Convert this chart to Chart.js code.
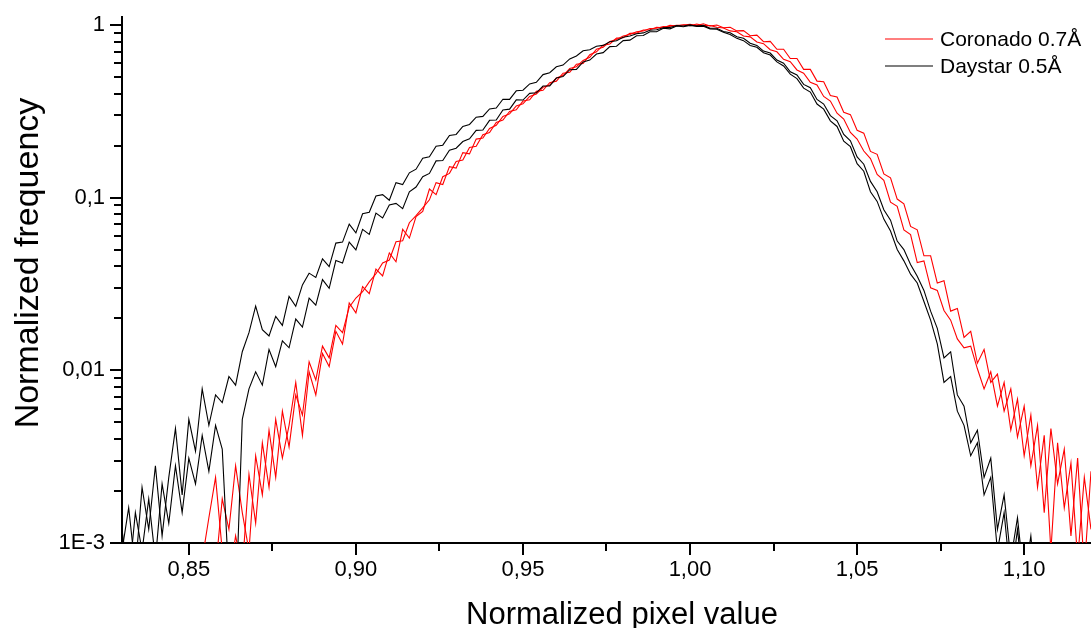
<!DOCTYPE html>
<html><head><meta charset="utf-8">
<script src="https://cdn.jsdelivr.net/npm/chart.js@4.4.1/dist/chart.umd.min.js"></script>
<style>html,body{margin:0;padding:0;background:#fff;}canvas{display:block;}</style>
</head><body>
<canvas id="c" width="1091" height="628"></canvas>
<script>
// Histogram bin centres (normalized pixel value)
const binCenters = [
 0.830,0.832,0.834,0.836,0.838,0.840,0.842,0.844,0.846,0.848,
 0.850,0.852,0.854,0.856,0.858,0.860,0.862,0.864,0.866,0.868,
 0.870,0.872,0.874,0.876,0.878,0.880,0.882,0.884,0.886,0.888,
 0.890,0.892,0.894,0.896,0.898,0.900,0.902,0.904,0.906,0.908,
 0.910,0.912,0.914,0.916,0.918,0.920,0.922,0.924,0.926,0.928,
 0.930,0.932,0.934,0.936,0.938,0.940,0.942,0.944,0.946,0.948,
 0.950,0.952,0.954,0.956,0.958,0.960,0.962,0.964,0.966,0.968,
 0.970,0.972,0.974,0.976,0.978,0.980,0.982,0.984,0.986,0.988,
 0.990,0.992,0.994,0.996,0.998,1.000,1.002,1.004,1.006,1.008,
 1.010,1.012,1.014,1.016,1.018,1.020,1.022,1.024,1.026,1.028,
 1.030,1.032,1.034,1.036,1.038,1.040,1.042,1.044,1.046,1.048,
 1.050,1.052,1.054,1.056,1.058,1.060,1.062,1.064,1.066,1.068,
 1.070,1.072,1.074,1.076,1.078,1.080,1.082,1.084,1.086,1.088,
 1.090,1.092,1.094,1.096,1.098,1.100,1.102,1.104,1.106,1.108,
 1.110,1.112,1.114,1.116,1.118,1.120
];
// Coronado 0.7Å, first curve
const coronadoA = [
 null,null,null,null,null,null,null,null,null,null,
 null,null,0.0008,0.0014,0.0024,0.0009,0.0006,0.0011,0.0007,0.0025,
 0.0013,0.0038,0.0021,0.0052,0.0031,0.0048,0.0085,0.0042,0.0098,0.0072,
 0.0125,0.0105,0.0168,0.0142,0.0245,0.0215,0.0305,0.0278,0.0385,0.0352,
 0.0478,0.0425,0.0655,0.0582,0.0775,0.0832,0.112,0.104,0.132,0.138,
 0.162,0.165,0.195,0.198,0.231,0.238,0.272,0.281,0.315,0.322,
 0.362,0.368,0.412,0.418,0.462,0.472,0.525,0.532,0.592,0.598,
 0.672,0.698,0.762,0.775,0.838,0.842,0.892,0.895,0.934,0.936,
 0.968,0.962,0.992,0.985,1.0,0.988,1.01,0.99,0.992,0.968,
 0.958,0.922,0.912,0.862,0.852,0.795,0.778,0.718,0.698,0.632,
 0.612,0.548,0.525,0.465,0.448,0.385,0.362,0.308,0.285,0.238,
 0.218,0.186,0.168,0.136,0.126,0.094,0.089,0.065,0.061,0.042,
 0.043,0.030,0.029,0.0222,0.0195,0.0152,0.0135,0.0138,0.0102,0.0078,
 0.0098,0.0062,0.0085,0.0045,0.0068,0.0032,0.0055,0.0021,0.0042,0.0009,
 0.0038,0.0016,0.0029,0.0008,0.0024,0.0012
];
// Coronado 0.7Å, second curve
const coronadoB = [
 null,null,null,null,null,null,null,null,null,null,
 null,null,null,null,0.0007,0.0018,0.0012,0.0028,0.0015,0.0009,
 0.0032,0.0019,0.0045,0.0024,0.0058,0.0036,0.0072,0.0055,0.0112,0.0088,
 0.0138,0.0118,0.0182,0.0165,0.0232,0.0262,0.0285,0.0325,0.0362,0.0418,
 0.0435,0.0555,0.0562,0.0715,0.0785,0.0872,0.097,0.122,0.119,0.151,
 0.148,0.182,0.179,0.218,0.221,0.251,0.262,0.295,0.305,0.339,
 0.349,0.385,0.398,0.435,0.448,0.492,0.508,0.558,0.572,0.622,
 0.648,0.722,0.742,0.802,0.822,0.862,0.878,0.912,0.922,0.952,
 0.955,0.978,0.982,0.995,0.998,1.008,0.99,1.015,0.985,0.998,
 0.962,0.968,0.922,0.925,0.865,0.872,0.798,0.802,0.722,0.722,
 0.638,0.638,0.552,0.552,0.472,0.468,0.39,0.382,0.312,0.302,
 0.245,0.236,0.185,0.178,0.137,0.13,0.098,0.092,0.068,0.065,
 0.046,0.046,0.032,0.033,0.022,0.0228,0.0155,0.0168,0.011,0.0132,
 0.0085,0.0095,0.0058,0.0078,0.0041,0.0062,0.0028,0.0048,0.0015,0.0046,
 0.0022,0.0035,0.0011,0.0031,0.0007,0.0026
];
// Daystar 0.5Å, first curve
const daystarA = [
 0.0009,0.0016,0.0007,0.0021,0.0012,0.0028,0.0011,0.0024,0.0046,0.0019,
 0.0052,0.0034,0.0078,0.0048,0.0072,0.0065,0.0092,0.0082,0.0128,0.0165,
 0.0235,0.0172,0.0158,0.0205,0.0182,0.0268,0.0235,0.0312,0.0365,0.0345,
 0.0442,0.0398,0.0545,0.0552,0.0702,0.0625,0.0805,0.0822,0.102,0.104,
 0.0965,0.122,0.119,0.139,0.146,0.169,0.172,0.198,0.201,0.229,
 0.232,0.258,0.265,0.292,0.295,0.326,0.33,0.371,0.37,0.415,
 0.418,0.455,0.465,0.515,0.528,0.572,0.585,0.635,0.66,0.708,
 0.718,0.752,0.76,0.798,0.808,0.848,0.862,0.888,0.898,0.93,
 0.936,0.962,0.966,0.99,0.985,1.0,0.98,0.982,0.948,0.942,
 0.905,0.88,0.835,0.81,0.76,0.742,0.69,0.668,0.61,0.578,
 0.518,0.488,0.43,0.408,0.348,0.325,0.278,0.258,0.212,0.197,
 0.157,0.142,0.108,0.095,0.075,0.064,0.05,0.043,0.036,0.032,
 0.025,0.0195,0.0142,0.0085,0.0092,0.0058,0.0048,0.0032,0.0038,0.0019,
 0.0024,0.0009,0.0015,0.0006,0.0012,0.0005,null,null,null,null,
 null,null,null,null,null,null
];
// Daystar 0.5Å, second curve
const daystarB = [
 0.0012,0.0006,0.0015,0.0009,0.0018,0.0008,0.0022,0.0013,0.0028,0.0015,
 0.0031,0.0022,0.0042,0.0026,0.0048,0.0035,0.0006,0.0004,0.0052,0.0078,
 0.0098,0.0082,0.0132,0.0105,0.0148,0.0135,0.0198,0.0178,0.0262,0.0238,
 0.0335,0.0298,0.0432,0.0418,0.0552,0.0498,0.0655,0.0612,0.0812,0.0762,
 0.0905,0.0925,0.0862,0.108,0.115,0.132,0.138,0.163,0.164,0.188,
 0.193,0.211,0.219,0.245,0.246,0.28,0.281,0.321,0.325,0.368,
 0.367,0.401,0.404,0.442,0.443,0.492,0.502,0.55,0.552,0.61,
 0.625,0.678,0.69,0.748,0.752,0.81,0.815,0.865,0.868,0.912,
 0.912,0.955,0.948,0.985,0.975,0.99,0.985,0.992,0.955,0.955,
 0.915,0.9,0.852,0.836,0.782,0.76,0.705,0.686,0.625,0.6,
 0.535,0.512,0.452,0.432,0.37,0.348,0.298,0.278,0.232,0.213,
 0.172,0.156,0.124,0.108,0.085,0.074,0.056,0.05,0.041,0.035,
 0.029,0.022,0.0175,0.0118,0.0128,0.0072,0.0062,0.0038,0.0045,0.0024,
 0.0031,0.0012,0.0019,0.0008,0.0014,0.0006,0.0011,0.0004,null,null,
 null,null,null,null,null,null
];
const seriesNames = ['Coronado 0.7Å', 'Daystar 0.5Å'];
const seriesColors = ['#ff0000', '#000000'];
const xTickValues = [0.85, 0.90, 0.95, 1.00, 1.05, 1.10];
const xTickLabels = ['0,85', '0,90', '0,95', '1,00', '1,05', '1,10'];
const xMinorTicks = [0.875, 0.925, 0.975, 1.025, 1.075];
const yTickValues = [0.001, 0.01, 0.1, 1];
const yTickLabels = ['1E-3', '0,01', '0,1', '1'];
const yMinorTicks = [0.002,0.003,0.004,0.005,0.006,0.007,0.008,0.009,
                     0.02,0.03,0.04,0.05,0.06,0.07,0.08,0.09,
                     0.2,0.3,0.4,0.5,0.6,0.7,0.8,0.9];
const xTitle = 'Normalized pixel value';
const yTitle = 'Normalized frequency';

const FONT = "'Liberation Sans', Arial, Helvetica, sans-serif";
const toPts = arr => binCenters.map((x, i) => ({x: x, y: arr[i]}));

const extras = {
  id: 'extras',
  afterDraw(chart) {
    const ctx = chart.ctx, a = chart.chartArea;
    const xs = chart.scales.x, ys = chart.scales.y;
    ctx.save();
    ctx.strokeStyle = '#000';
    ctx.lineWidth = 2;
    ctx.beginPath();
    yTickValues.forEach(v => {
      const p = Math.round(ys.getPixelForValue(v));
      ctx.moveTo(a.left - 12, p); ctx.lineTo(a.left, p);
    });
    yMinorTicks.forEach(v => {
      const p = Math.round(ys.getPixelForValue(v));
      ctx.moveTo(a.left - 8, p); ctx.lineTo(a.left, p);
    });
    xTickValues.forEach(v => {
      const p = Math.round(xs.getPixelForValue(v));
      ctx.moveTo(p, a.bottom); ctx.lineTo(p, a.bottom + 12);
    });
    xMinorTicks.forEach(v => {
      const p = Math.round(xs.getPixelForValue(v));
      ctx.moveTo(p, a.bottom); ctx.lineTo(p, a.bottom + 8);
    });
    ctx.stroke();
    // axis titles
    ctx.fillStyle = '#000';
    ctx.font = '31px ' + FONT;
    ctx.textAlign = 'center';
    ctx.textBaseline = 'alphabetic';
    ctx.fillText(xTitle, 622, 624);
    ctx.save();
    ctx.translate(38, 263);
    ctx.rotate(-Math.PI / 2);
    ctx.font = '34px ' + FONT;
    ctx.fillText(yTitle, 0, 0);
    ctx.restore();
    // legend
    ctx.font = '21px ' + FONT;
    ctx.textAlign = 'left';
    ctx.textBaseline = 'middle';
    const lx = a.right - 206, ly = [39, 66];
    seriesNames.forEach((n, i) => {
      ctx.strokeStyle = seriesColors[i];
      ctx.lineWidth = 1.2;
      ctx.beginPath();
      ctx.moveTo(lx, ly[i]); ctx.lineTo(lx + 48, ly[i]);
      ctx.stroke();
      ctx.fillText(n, lx + 55, ly[i] + 1);
    });
    ctx.restore();
  }
};

const mk = (arr, c) => ({data: toPts(arr), borderColor: c, borderWidth: 1.1, pointRadius: 0, tension: 0, spanGaps: false, fill: false});

new Chart(document.getElementById('c'), {
  type: 'line',
  data: {
    datasets: [
      mk(daystarA, seriesColors[1]),
      mk(daystarB, seriesColors[1]),
      mk(coronadoA, seriesColors[0]),
      mk(coronadoB, seriesColors[0])
    ]
  },
  options: {
    responsive: false,
    animation: false,
    layout: {padding: {left: 0, right: 0, top: 17, bottom: 0}},
    plugins: {legend: {display: false}, tooltip: {enabled: false}},
    scales: {
      x: {
        type: 'linear', min: 0.83, max: 1.12,
        afterBuildTicks: s => { s.ticks = xTickValues.map(v => ({value: v})); },
        afterFit: s => { s.height = 85; s.paddingLeft = 0; s.paddingRight = 0; },
        ticks: {callback: (v, i) => xTickLabels[i], font: {family: FONT, size: 22, lineHeight: 1.2}, color: '#000', padding: 14, maxRotation: 0, autoSkip: false},
        grid: {drawOnChartArea: false, drawTicks: false},
        border: {color: '#000', width: 2}
      },
      y: {
        type: 'logarithmic', min: 0.001, max: 1.11,
        afterBuildTicks: s => { s.ticks = yTickValues.map(v => ({value: v})); },
        afterFit: s => { s.width = 122; s.paddingTop = 0; s.paddingBottom = 0; },
        ticks: {callback: (v, i) => yTickLabels[i], font: {family: FONT, size: 22, lineHeight: 1.2}, color: '#000', padding: 17, autoSkip: false},
        grid: {drawOnChartArea: false, drawTicks: false},
        border: {color: '#000', width: 2}
      }
    }
  },
  plugins: [extras]
});
</script>
</body></html>
